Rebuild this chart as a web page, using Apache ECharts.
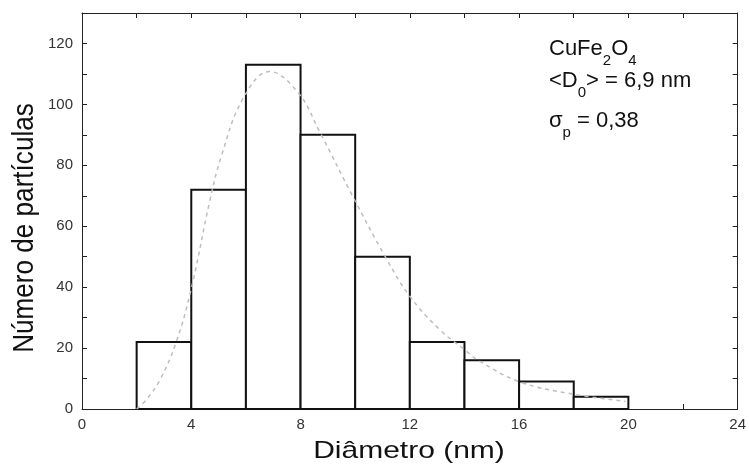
<!DOCTYPE html>
<html>
<head>
<meta charset="utf-8">
<script src="https://cdn.jsdelivr.net/npm/echarts@6/dist/echarts.min.js"></script>
<style>
html,body{margin:0;padding:0;background:#fff;}
#chart{width:749px;height:465px;}
</style>
</head>
<body>
<div id="chart"></div>
<script>
// Histogram bins (nm) and counts
const binStarts = [2, 4, 6, 8, 10, 12, 14, 16, 18];
const binEnds   = [4, 6, 8, 10, 12, 14, 16, 18, 20];
const counts    = [22, 72, 113, 90, 50, 22, 16, 9, 4];

// Fitted curve
const curveX = [2.0, 2.35, 2.85, 3.45, 4.0, 4.67, 5.1, 5.9, 6.86, 7.9, 8.7, 9.9, 11.1, 12.0, 13.1, 14.0, 14.5, 16.0, 17.9, 19.9];
const curveY = [0, 3, 9.5, 22, 39.5, 68, 83, 102, 110.8, 104, 91, 70, 50, 37, 26, 19.5, 16, 9, 5, 2.5];

// Axis ticks
const xTicks = [0, 4, 8, 12, 16, 20, 24];
const yTicks = [0, 20, 40, 60, 80, 100, 120];

const xName = 'Diâmetro (nm)';
const yName = 'Número de partículas';

const FONT = '"Liberation Sans", Arial, sans-serif';
const TICKFONT = '"Liberation Sans Narrow", "Liberation Sans", Arial, sans-serif';

const chart = echarts.init(document.getElementById('chart'), null, {renderer: 'canvas'});

const histData = binStarts.map((s, i) => [s, binEnds[i], counts[i]]);
const curveData = curveX.map((x, i) => [x, curveY[i]]);

// measure text for annotation layout
const mctx = document.createElement('canvas').getContext('2d');
function tw(t, size) { mctx.font = size + 'px ' + FONT; return mctx.measureText(t).width; }

const MAIN = 22, SUB = 15;
function line(pieces, x0, baseline) {
  const els = [];
  let x = x0;
  pieces.forEach(([t, sub]) => {
    const size = sub ? SUB : MAIN;
    const b = sub ? baseline + 10 : baseline;
    els.push({
      type: 'text', x: x, y: b + 0.21 * size, silent: true,
      style: {text: t, fontSize: size, fontFamily: FONT, fill: '#111',
              textAlign: 'left', textVerticalAlign: 'bottom'}
    });
    x += tw(t, size);
  });
  return els;
}

const annot = [].concat(
  line([['CuFe', 0], ['2', 1], ['O', 0], ['4', 1]], 549, 55),
  line([['<D', 0], ['0', 1], ['>', 0], [' = 6,9 nm', 0]], 549, 87),
  line([['σ', 0], ['p', 1], [' = 0,38', 0]], 549, 127)
);

function axisCommon() {
  return {
    axisLine: {show: true, onZero: false, lineStyle: {color: '#222', width: 1}},
    axisTick: {show: true, inside: true, length: 5, lineStyle: {color: '#222', width: 1}},
    splitLine: {show: false}
  };
}

const option = {
  backgroundColor: '#fff',
  animation: false,
  grid: {left: 82, right: 10, top: 13, bottom: 56},
  xAxis: [
    Object.assign({
      type: 'value', min: 0, max: 24, interval: 2, position: 'bottom',
      axisLabel: {
        margin: 8, fontSize: 15, fontFamily: TICKFONT, color: '#333',
        formatter: v => xTicks.indexOf(v) >= 0 ? String(v) : ''
      }
    }, axisCommon()),
    Object.assign({
      type: 'value', min: 0, max: 24, interval: 2, position: 'top',
      axisLabel: {show: false}
    }, axisCommon())
  ],
  yAxis: [
    Object.assign({
      type: 'value', min: 0, max: 130, interval: 10, position: 'left',
      axisLabel: {
        margin: 9, fontSize: 15, fontFamily: TICKFONT, color: '#333',
        formatter: v => yTicks.indexOf(v) >= 0 ? String(v) : ''
      }
    }, axisCommon()),
    Object.assign({
      type: 'value', min: 0, max: 130, interval: 10, position: 'right',
      axisLabel: {show: false}
    }, axisCommon())
  ],
  series: [
    {
      type: 'custom',
      xAxisIndex: 0, yAxisIndex: 0,
      data: histData,
      z: 2,
      renderItem: function (params, api) {
        const p0 = api.coord([api.value(0), api.value(2)]);
        const p1 = api.coord([api.value(1), 0]);
        return {
          type: 'rect',
          shape: {x: p0[0], y: p0[1], width: p1[0] - p0[0], height: p1[1] - p0[1]},
          style: {fill: '#fff', stroke: '#111', lineWidth: 2}
        };
      }
    },
    {
      type: 'line',
      xAxisIndex: 0, yAxisIndex: 0,
      data: curveData,
      smooth: 0.4,
      symbol: 'none',
      z: 5,
      lineStyle: {color: '#bdbdbd', width: 1.5, type: [4, 4]}
    }
  ],
  graphic: [
    {
      type: 'text', x: 409, y: 451, silent: true, scaleX: 1.25,
      style: {text: xName, fontSize: 24, fontFamily: FONT, fill: '#111',
              textAlign: 'center', textVerticalAlign: 'middle'}
    },
    {
      type: 'text', x: 25, y: 228, rotation: Math.PI / 2, scaleX: 0.87, silent: true,
      style: {text: yName, fontSize: 30, fontFamily: FONT, fill: '#111',
              textAlign: 'center', textVerticalAlign: 'middle'}
    }
  ].concat(annot)
};

chart.setOption(option);
</script>
</body>
</html>
